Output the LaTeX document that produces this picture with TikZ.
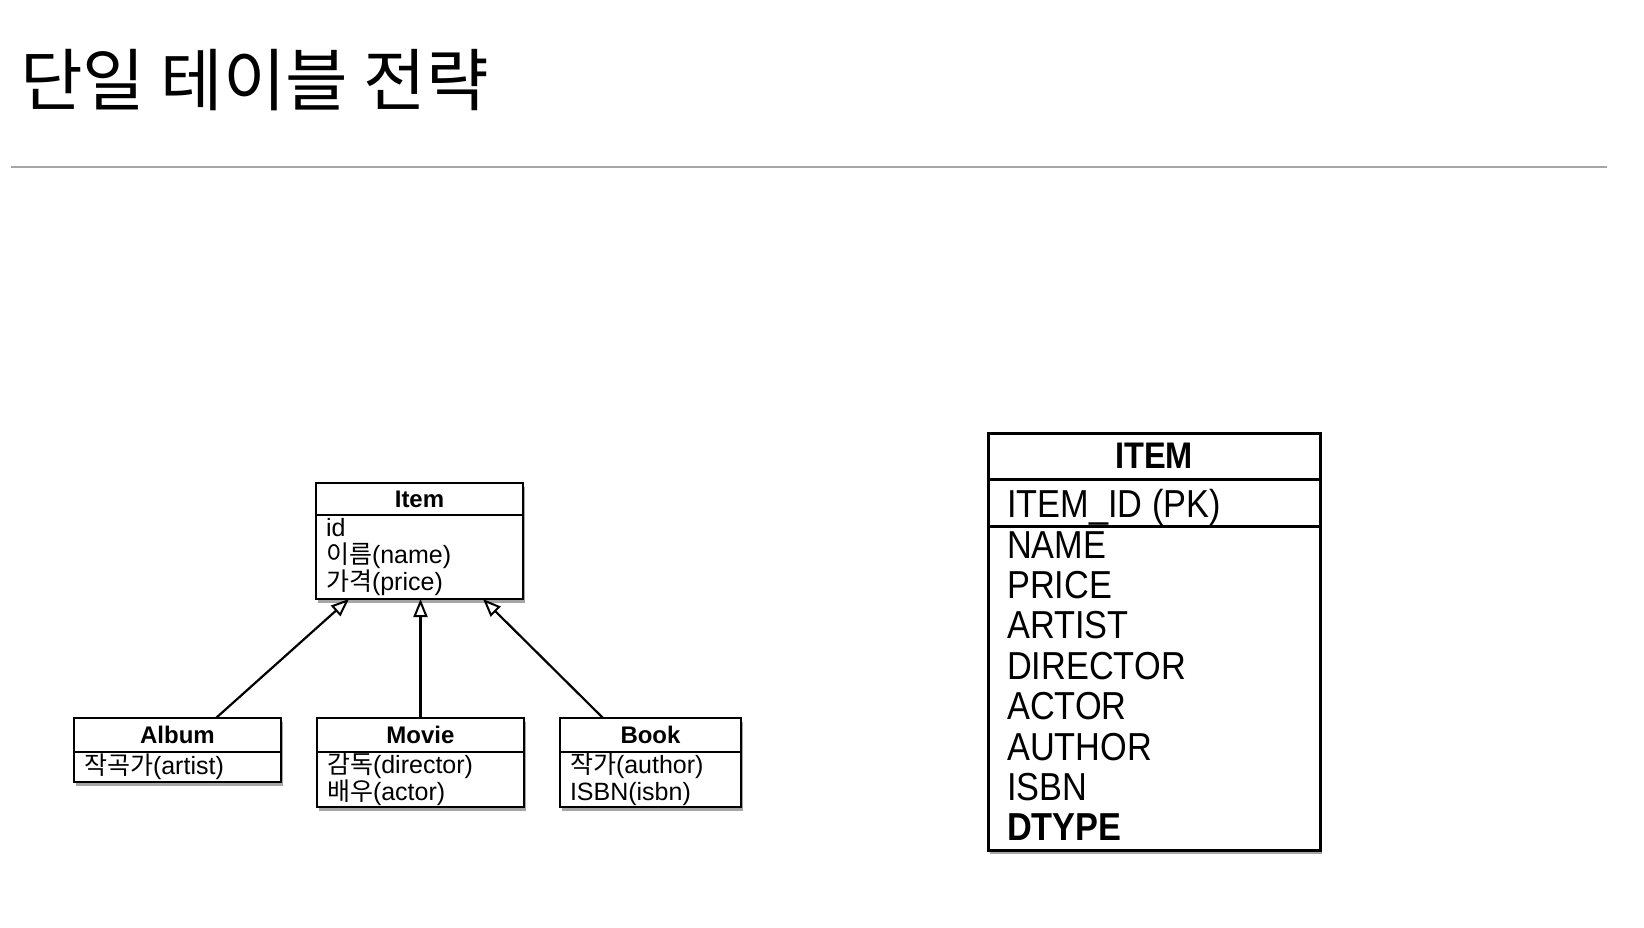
\documentclass[tikz,border=0pt]{standalone}
\usepackage{fontspec}
\setmainfont{Liberation Sans}
\newfontfamily\kr{Noto Sans CJK KR}
\newfontfamily\tblfont[FakeStretch=0.88]{Liberation Sans}
\usetikzlibrary{arrows.meta,shadows}
\begin{document}
\begin{tikzpicture}[x=1pt,y=-1pt,
  shad/.style={drop shadow={shadow xshift=2pt,shadow yshift=-3.5pt,opacity=0.35,fill=black}},
  boxbase/.style={draw,fill=white,shad,outer sep=0pt,inner sep=0pt},
  umlhead/.style={boxbase,line width=2.2pt,anchor=north west,font=\bfseries\fontsize{24}{28}\selectfont},
  umlbody/.style={boxbase,line width=2.2pt,anchor=north,align=left,inner xsep=10pt,
    font=\fontsize{25}{27}\selectfont},
  tblbox/.style={boxbase,line width=3pt,anchor=north west,minimum width=332pt},
  tbltext/.style={anchor=base west,inner sep=0pt,font=\tblfont\fontsize{39}{40}\selectfont},
  inh/.style={line width=2.2pt,-{Triangle[open,length=18pt,width=14pt,line width=2pt]}},
  rule/.style={line width=1.6pt,draw=black!35}
]
\useasboundingbox (0,0) rectangle (1644,928);

% title
\node[anchor=base west,inner sep=0pt,font=\kr\fontsize{68}{72}\selectfont] (title) at (20,106) {단일 테이블 전략};
\coordinate (ruleL) at (11,167);
\coordinate (ruleR) at (1607,167);
\draw[rule] (ruleL) -- (ruleR);

% Item class
\node[umlhead,minimum width=207pt,minimum height=32pt] (itemh) at (316,483) {Item};
\node[umlbody,text width=187pt,minimum height=84pt] (itemb) at (itemh.south)
  {id\\{\kr 이름}(name)\\{\kr 가격}(price)};

% Album
\node[umlhead,minimum width=207pt,minimum height=34pt] (album) at (74,718) {Album};
\node[umlbody,text width=187pt,minimum height=30pt] (albumb) at (album.south)
  {{\kr 작곡가}(artist)};

% Movie
\node[umlhead,minimum width=207pt,minimum height=34pt] (movie) at (317,718) {Movie};
\node[umlbody,text width=187pt,minimum height=55pt] (movieb) at (movie.south)
  {{\kr 감독}(director)\\{\kr 배우}(actor)};

% Book
\node[umlhead,minimum width=181pt,minimum height=34pt] (book) at (560,718) {Book};
\node[umlbody,text width=161pt,minimum height=55pt] (bookb) at (book.south)
  {{\kr 작가}(author)\\ISBN(isbn)};

% inheritance arrows
\draw[inh] ([xshift=38.5pt]album.north) -- ([xshift=-70.5pt]itemb.south);
\draw[inh] (movie.north) -- (movie.north |- itemb.south);
\draw[inh] ([xshift=-47.5pt]book.north) -- ([xshift=63.5pt]itemb.south);

% ITEM table
\node[tblbox,minimum height=46pt,font=\tblfont\bfseries\fontsize{37}{40}\selectfont] (tblh) at (988,433) {ITEM};
\node[tblbox,minimum height=47pt] (tblpk) at (988,479) {};
\node[tblbox,minimum height=324pt] (tblb) at (988,526) {};
\node[tbltext] (pk) at (1007,517) {ITEM\_ID (PK)};
\node[tbltext] (r1) at (1007,558) {NAME};
\node[tbltext] (r2) at (1007,598.4) {PRICE};
\node[tbltext] (r3) at (1007,638.8) {ARTIST};
\node[tbltext] (r4) at (1007,679.2) {DIRECTOR};
\node[tbltext] (r5) at (1007,719.6) {ACTOR};
\node[tbltext] (r6) at (1007,760) {AUTHOR};
\node[tbltext] (r7) at (1007,800.4) {ISBN};
\node[tbltext,font=\tblfont\bfseries\fontsize{39}{40}\selectfont] (r8) at (1007,840.8) {DTYPE};
\end{tikzpicture}
\end{document}
